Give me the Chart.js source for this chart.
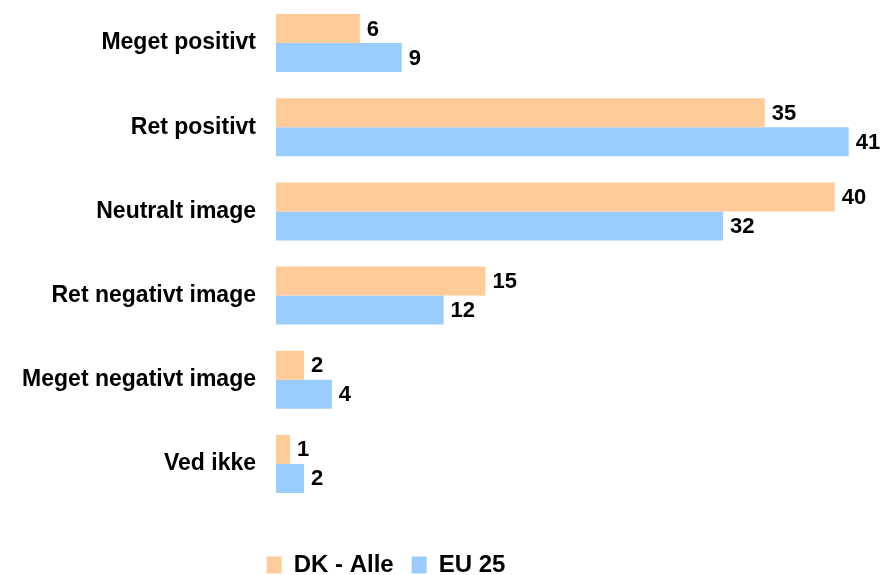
<!DOCTYPE html>
<html>
<head>
<meta charset="utf-8">
<script src="https://cdn.jsdelivr.net/npm/chart.js@4/dist/chart.umd.min.js"></script>
<style>
  html, body { margin: 0; padding: 0; background: #ffffff; }
  #wrap { width: 884px; height: 575px; position: relative; }
</style>
</head>
<body>
<div id="wrap"><canvas id="c" width="884" height="575"></canvas></div>
<script>
const categories = ["Meget positivt", "Ret positivt", "Neutralt image", "Ret negativt image", "Meget negativt image", "Ved ikke"];
const seriesNames = ["DK - Alle", "EU 25"];
const dkValues = [6, 35, 40, 15, 2, 1];
const euValues = [9, 41, 32, 12, 4, 2];
const axisMax = 43.1;

const FONT = "'Liberation Sans', Arial, sans-serif";

const valueLabels = {
  id: 'valueLabels',
  afterDatasetsDraw(chart) {
    const ctx = chart.ctx;
    ctx.save();
    ctx.font = 'bold 22px ' + FONT;
    ctx.fillStyle = '#000000';
    ctx.textAlign = 'left';
    ctx.textBaseline = 'middle';
    chart.data.datasets.forEach((ds, di) => {
      const meta = chart.getDatasetMeta(di);
      meta.data.forEach((bar, i) => {
        ctx.fillText(String(ds.data[i]), bar.x + 7, bar.y + 1);
      });
    });
    ctx.restore();
  }
};

const legendShift = {
  id: 'legendShift',
  afterLayout(chart) {
    const lg = chart.legend;
    if (lg) {
      lg.left -= 53; lg.right -= 53;
      lg.top += 29; lg.bottom += 29;
    }
  }
};

new Chart(document.getElementById('c'), {
  type: 'bar',
  data: {
    labels: categories,
    datasets: [
      { label: seriesNames[0], data: dkValues, backgroundColor: '#FFCC99', borderWidth: 0 },
      { label: seriesNames[1], data: euValues, backgroundColor: '#99CCFF', borderWidth: 0 }
    ]
  },
  options: {
    indexAxis: 'y',
    responsive: false,
    animation: false,
    events: [],
    layout: { padding: { top: 1, right: 6, left: 0, bottom: 17 } },
    datasets: { bar: { categoryPercentage: 0.69, barPercentage: 1.0 } },
    scales: {
      x: { display: false, min: 0, max: axisMax },
      y: {
        grid: { display: false, drawTicks: false },
        border: { display: false },
        afterFit(scale) {
          scale.width = 276;
          scale.paddingTop = 0;
          scale.paddingBottom = 0;
        },
        ticks: {
          padding: 20,
          color: '#000000',
          font: { family: FONT, size: 23, weight: 'bold' }
        }
      }
    },
    plugins: {
      tooltip: { enabled: false },
      legend: {
        position: 'bottom',
        labels: {
          color: '#000000',
          boxWidth: 15,
          boxHeight: 17,
          padding: 18,
          font: { family: FONT, size: 24, weight: 'bold' }
        }
      }
    }
  },
  plugins: [valueLabels, legendShift]
});
</script>
</body>
</html>
